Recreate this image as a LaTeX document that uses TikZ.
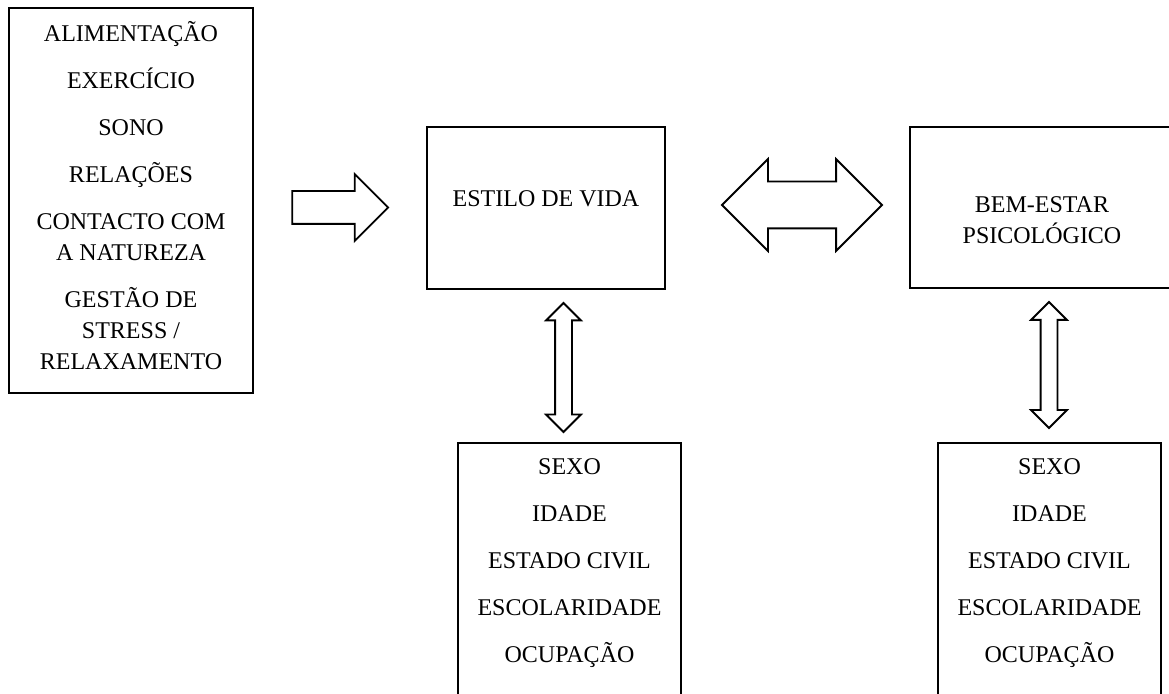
\documentclass[tikz,border=0pt]{standalone}
\usepackage{fontspec}
\setmainfont{Liberation Serif}
\usetikzlibrary{shapes.arrows,positioning}

\begin{document}
\begin{tikzpicture}[
    x=0.5pt, y=-0.5pt,
    caixa/.style={rectangle, draw, line width=1.1pt, inner sep=0pt},
    lista/.style={align=center, inner sep=0pt, font=\fontsize{12}{15.5}\selectfont},
    dados/.style={align=center, inner sep=0pt, font=\fontsize{12}{23.5}\selectfont},
    seta/.style={draw, line width=0.9pt, inner xsep=0pt, fill=white}
]
    \useasboundingbox (0,0) rectangle (1169,694);
    \clip (0,0) rectangle (1169,694);

    % Boxes
    \node[caixa, minimum width=122pt, minimum height=192.5pt] (fatores) at (131,200.5) {};
    \node[caixa, minimum width=119pt, minimum height=81pt] (estilo) at (546,208) {};
    \node[caixa, minimum width=132pt, minimum height=80.5pt] (bemestar) at (1042,207.5) {};
    \node[caixa, minimum width=111.5pt, minimum height=158.5pt] (demo1) at (569.5,601.5) {};
    \node[caixa, minimum width=111.5pt, minimum height=158.5pt] (demo2) at (1049.5,601.5) {};

    % Texts
    \node[lista] (fatores-txt) at (131,196) {ALIMENTAÇÃO\\[8pt]
        EXERCÍCIO\\[8pt]
        SONO\\[8pt]
        RELAÇÕES\\[8pt]
        CONTACTO COM\\A NATUREZA\\[8pt]
        GESTÃO DE\\STRESS /\\RELAXAMENTO};
    \node[lista] (estilo-txt) at (546,199) {ESTILO DE VIDA};
    \node[lista] (bemestar-txt) at (1042,220) {BEM-ESTAR\\PSICOLÓGICO};
    \node[dados] (demo1-txt) at (569.5,563) {SEXO\\IDADE\\ESTADO CIVIL\\ESCOLARIDADE\\OCUPAÇÃO};
    \node[dados] (demo2-txt) at (1049.5,563) {SEXO\\IDADE\\ESTADO CIVIL\\ESCOLARIDADE\\OCUPAÇÃO};

    % Block arrows
    \node[seta, single arrow, inner ysep=7.75pt, minimum height=48pt, minimum width=32.5pt,
        single arrow head extend=8.5pt] (seta-fatores) at (332,207.5) {};
    \node[seta, double arrow, inner ysep=11.25pt, minimum height=80pt, minimum width=45pt,
        double arrow head extend=11.25pt] (seta-estilo-bem) at (802,205) {};
    \node[seta, double arrow, rotate=90, inner ysep=3.75pt, minimum height=64.5pt, minimum width=16.5pt,
        double arrow head extend=4.5pt] (seta-demo1) at (563.5,367.5) {};
    \node[seta, double arrow, rotate=90, inner ysep=3.75pt, minimum height=63pt, minimum width=17pt,
        double arrow head extend=4.75pt] (seta-demo2) at (1049,365) {};
\end{tikzpicture}
\end{document}
